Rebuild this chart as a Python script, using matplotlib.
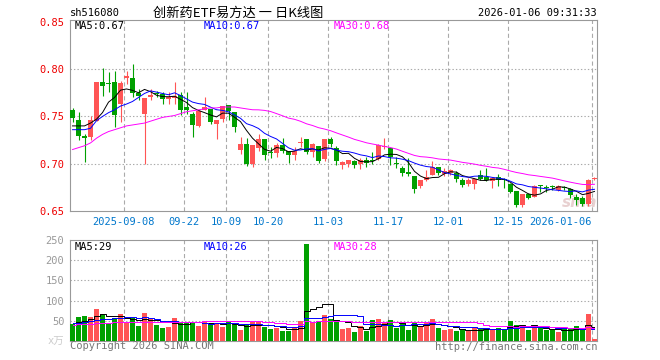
import numpy as np
import pandas as pd
import matplotlib
matplotlib.use("Agg")
import matplotlib.pyplot as plt

plt.rcParams['lines.scale_dashes'] = False

# daily k-line, 88 sessions (2025-08-26 .. 2026-01-06)
opens = [0.7566, 0.7460, 0.7288, 0.7278, 0.7455, 0.7868, 0.7854, 0.7861, 0.7635, 0.7903,
         0.7910, 0.7750, 0.7531, 0.7708, 0.7740, 0.7740, 0.7684, 0.7690, 0.7722, 0.7600,
         0.7531, 0.7396, 0.7569, 0.7580, 0.7417, 0.7469, 0.7625, 0.7542, 0.7146, 0.7208,
         0.7000, 0.7163, 0.7260, 0.7115, 0.7111, 0.7198, 0.7139, 0.7094, 0.7215, 0.7260,
         0.7122, 0.7187, 0.7049, 0.7260, 0.7165, 0.6985, 0.7000, 0.7031, 0.7000, 0.7042,
         0.7042, 0.7055, 0.7174, 0.7163, 0.7000, 0.6955, 0.6910, 0.6868, 0.6764, 0.6826,
         0.6885, 0.6962, 0.6893, 0.6900, 0.6905, 0.6830, 0.6781, 0.6790, 0.6880, 0.6863,
         0.6820, 0.6861, 0.6830, 0.6787, 0.6712, 0.6560, 0.6677, 0.6650, 0.6780, 0.6752,
         0.6755, 0.6725, 0.6755, 0.6730, 0.6650, 0.6635, 0.6575, 0.6838]
highs = [0.7590, 0.7549, 0.7316, 0.7503, 0.7865, 0.8017, 0.7965, 0.7976, 0.7878, 0.7976,
         0.8059, 0.7792, 0.7691, 0.7792, 0.7770, 0.7757, 0.7757, 0.7860, 0.7757, 0.7757,
         0.7549, 0.7563, 0.7701, 0.7580, 0.7465, 0.7608, 0.7625, 0.7542, 0.7285, 0.7267,
         0.7198, 0.7313, 0.7260, 0.7180, 0.7215, 0.7267, 0.7139, 0.7180, 0.7285, 0.7260,
         0.7222, 0.7187, 0.7257, 0.7285, 0.7191, 0.7024, 0.7042, 0.7042, 0.7059, 0.7069,
         0.7122, 0.7208, 0.7267, 0.7163, 0.7069, 0.6972, 0.7059, 0.6868, 0.6826, 0.6937,
         0.7031, 0.6962, 0.6950, 0.6945, 0.6920, 0.6845, 0.6851, 0.6851, 0.6930, 0.6955,
         0.6861, 0.6890, 0.6851, 0.6799, 0.6712, 0.6684, 0.6688, 0.6771, 0.6780, 0.6780,
         0.6780, 0.6770, 0.6765, 0.6740, 0.6685, 0.6660, 0.6840, 0.6862]
lows = [0.7444, 0.7253, 0.7017, 0.7253, 0.7450, 0.7715, 0.7757, 0.7392, 0.7444, 0.7844,
        0.7705, 0.7670, 0.7000, 0.7670, 0.7705, 0.7635, 0.7635, 0.7628, 0.7514, 0.7531,
        0.7278, 0.7389, 0.7563, 0.7417, 0.7260, 0.7441, 0.7458, 0.7337, 0.7104, 0.6972,
        0.6962, 0.7139, 0.7042, 0.7059, 0.7076, 0.7111, 0.7007, 0.7042, 0.7180, 0.7104,
        0.7076, 0.7007, 0.7024, 0.7180, 0.6990, 0.6948, 0.6965, 0.6955, 0.6948, 0.6965,
        0.7000, 0.7042, 0.7156, 0.6983, 0.6955, 0.6875, 0.6875, 0.6694, 0.6740, 0.6816,
        0.6885, 0.6885, 0.6870, 0.6880, 0.6806, 0.6750, 0.6760, 0.6736, 0.6833, 0.6816,
        0.6747, 0.6760, 0.6740, 0.6694, 0.6540, 0.6540, 0.6625, 0.6650, 0.6705, 0.6700,
        0.6720, 0.6710, 0.6720, 0.6640, 0.6560, 0.6555, 0.6550, 0.6826]
closes = [0.7479, 0.7288, 0.7267, 0.7462, 0.7861, 0.7826, 0.7840, 0.7514, 0.7850, 0.7924,
          0.7750, 0.7715, 0.7691, 0.7729, 0.7736, 0.7680, 0.7705, 0.7719, 0.7566, 0.7566,
          0.7410, 0.7556, 0.7604, 0.7441, 0.7465, 0.7608, 0.7556, 0.7389, 0.7208, 0.7000,
          0.7198, 0.7260, 0.7094, 0.7110, 0.7198, 0.7139, 0.7087, 0.7135, 0.7233, 0.7122,
          0.7208, 0.7024, 0.7257, 0.7208, 0.7030, 0.7015, 0.7042, 0.6990, 0.7042, 0.7010,
          0.7028, 0.7198, 0.7191, 0.7076, 0.6997, 0.6903, 0.6892, 0.6729, 0.6826, 0.6861,
          0.6962, 0.6903, 0.6920, 0.6930, 0.6840, 0.6778, 0.6823, 0.6838, 0.6842, 0.6830,
          0.6847, 0.6825, 0.6825, 0.6698, 0.6560, 0.6680, 0.6640, 0.6760, 0.6762, 0.6745,
          0.6750, 0.6762, 0.6742, 0.6665, 0.6620, 0.6575, 0.6830, 0.6845]
# volume, 万手
volumes = [42, 60, 62, 60, 80, 67, 43, 58, 67, 44,
           58, 37, 70, 54, 40, 32, 35, 57, 44, 48,
           48, 37, 48, 44, 44, 35, 48, 40, 27, 41,
           46, 48, 35, 30, 32, 25, 25, 35, 50, 240,
           48, 50, 65, 55, 48, 30, 32, 22, 37, 25,
           52, 55, 45, 52, 32, 42, 27, 45, 37, 45,
           55, 32, 27, 30, 25, 30, 25, 32, 30, 27,
           30, 32, 30, 50, 40, 40, 27, 37, 32, 27,
           27, 22, 30, 32, 37, 30, 67, 5]

# MA values at the start, where the window reaches back before the chart
ma5_head = [0.740, 0.740, 0.740, 0.743]
ma10_head = [0.736, 0.736, 0.736, 0.7375, 0.7455, 0.750, 0.754, 0.757, 0.761]
ma30_head = [0.715, 0.717, 0.719, 0.722, 0.727, 0.731, 0.734, 0.736, 0.738, 0.740,
             0.741, 0.742, 0.743, 0.745, 0.747, 0.749, 0.750, 0.751, 0.753, 0.755,
             0.756, 0.757, 0.758, 0.759, 0.759, 0.760, 0.760, 0.760, 0.759]
vma5_head = [44, 47, 50, 55]
vma10_head = [44, 45, 47, 49, 52, 54, 55, 56, 57]
vma30_head = [40, 41, 42, 43, 44, 45, 45, 46, 46, 46, 46, 46, 46, 46, 46,
              47, 47, 47, 48, 48, 48, 48, 49, 49, 49, 49, 49, 49, 49]

tick_pos = [9, 19, 26, 33, 43, 53, 63, 73, 87]
tick_labels = ["2025-09-08", "09-22", "10-09", "10-20", "11-03",
               "11-17", "12-01", "12-15", "2026-01-06"]
price_ticks = [0.65, 0.70, 0.75, 0.80, 0.85]
vol_ticks = [0, 50, 100, 150, 200, 250]
vol_tick_labels = ["x万", "50", "100", "150", "200", "250"]

RED = "#ff5555"
GREEN = "#00a000"
GRID = "#aaaaaa"
MONO = "DejaVu Sans Mono"


def moving_avg(values, n, head):
    s = pd.Series(values, dtype=float).rolling(n).mean()
    s.iloc[:len(head)] = head
    return s.values


W, H = 660, 360
fig = plt.figure(figsize=(W / 100, H / 100), dpi=100)
fig.patch.set_facecolor("white")


def box(left, top, right, bottom):
    return [left / W, 1 - bottom / H, (right - left) / W, (bottom - top) / H]


ax = fig.add_axes(box(70, 20, 597, 211))
axv = fig.add_axes(box(70, 240, 597, 341))

x = np.arange(len(closes))
o = np.array(opens)
c = np.array(closes)
up = c >= o
colors = [RED if u else GREEN for u in up]
bw = 5 / 6

# faint sina logo behind the last candles
ax.text(84.5, 0.659, "sina", color="#e8d0d0", fontsize=11, fontweight="bold",
        style="italic", ha="center", va="center", zorder=2)

# candles
ax.vlines(x, lows, highs, colors=colors, linewidth=0.8, zorder=3)
body_bottom = np.minimum(o, c)
body_h = np.maximum(np.abs(c - o), 0.0011)
ax.bar(x, body_h, bottom=body_bottom, width=bw, color=colors, linewidth=0, zorder=4)

ax.plot(x, moving_avg(closes, 5, ma5_head), color="black", lw=0.7, zorder=5)
ax.plot(x, moving_avg(closes, 10, ma10_head), color="#0000ff", lw=0.7, zorder=5)
ax.plot(x, moving_avg(closes, 30, ma30_head), color="#ff00ff", lw=0.7, zorder=5)

# volume
axv.bar(x, volumes, width=bw, color=colors, linewidth=0, zorder=3)
axv.plot(x, moving_avg(volumes, 5, vma5_head), color="black", lw=0.7, zorder=5, drawstyle="steps-mid")
axv.plot(x, moving_avg(volumes, 10, vma10_head), color="#0000ff", lw=0.7, zorder=5, drawstyle="steps-mid")
axv.plot(x, moving_avg(volumes, 30, vma30_head), color="#ff00ff", lw=0.7, zorder=5, drawstyle="steps-mid")

grid_x = [p - 0.42 for p in tick_pos]
for a in (ax, axv):
    a.set_xlim(-0.42, 87.42)
    for gx in grid_x:
        a.axvline(gx, color=GRID, lw=0.8, linestyle=(0, (3, 2)), zorder=1)
    for s in a.spines.values():
        s.set_color("#999999")
        s.set_linewidth(0.8)
    a.set_facecolor("white")

ax.set_ylim(0.65, 0.852)
for yv in price_ticks[1:-1]:
    ax.axhline(yv, color=GRID, lw=0.8, linestyle=(0, (1, 1.5)), zorder=1)
ax.set_yticks(price_ticks)
ax.set_yticklabels([f"{v:.2f}" for v in price_ticks], color="#ee0000",
                   fontsize=7.5, family=MONO)
ax.set_xticks(grid_x)
ax.set_xticklabels(tick_labels, color="#0077cc", fontsize=7.5, family=MONO)
ax.get_xticklabels()[-1].set_horizontalalignment("right")
ax.tick_params(length=0, pad=4)

axv.set_ylim(0, 250)
for yv in vol_ticks[1:-1]:
    axv.axhline(yv, color=GRID, lw=0.8, linestyle=(0, (1, 1.5)), zorder=1)
axv.set_yticks(vol_ticks)
axv.set_yticklabels(vol_tick_labels, color="#999999", fontsize=7.5,
                    family=[MONO, "Noto Sans CJK SC"])
axv.get_yticklabels()[0].set_color("#cccccc")
axv.set_xticks([])
axv.tick_params(length=0, pad=4)


def ftext(px, py, s, **kw):
    kw.setdefault("family", MONO)
    kw.setdefault("fontsize", 7.5)
    kw.setdefault("va", "center")
    fig.text(px / W, 1 - py / H, s, **kw)


ftext(70, 13, "sh516080", color="black")
ftext(238, 13, "创新药ETF易方达 一 日K线图", ha="center", fontsize=9.5,
      family=["Noto Sans CJK SC", "DejaVu Sans"], color="black")
ftext(597, 13, "2026-01-06 09:31:33", ha="right", color="black")

ftext(75, 26, "MA5:0.67", color="black")
ftext(204, 26, "MA10:0.67", color="#0000ff")
ftext(334, 26, "MA30:0.68", color="#ff00ff")

ftext(75, 247, "MA5:29", color="black")
ftext(204, 247, "MA10:26", color="#0000ff")
ftext(334, 247, "MA30:28", color="#ff00ff")

ftext(70, 346, "Copyright 2026 SINA.COM", color="#777777")
ftext(597, 347, "http://finance.sina.com.cn", ha="right", color="#777777")

fig.savefig("out.png", dpi=100, facecolor="white")
